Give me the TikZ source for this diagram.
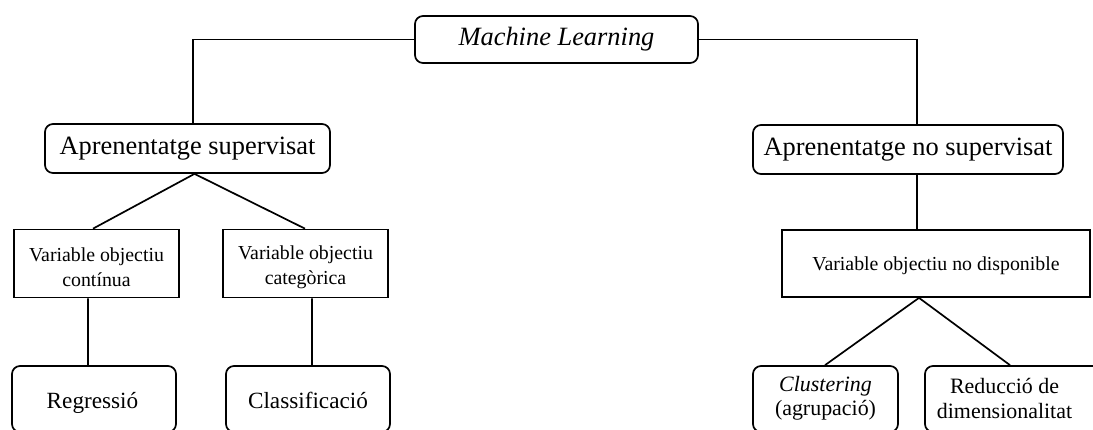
\documentclass[tikz,border=0pt]{standalone}
\usepackage{fontspec}
\setmainfont{Liberation Serif}
\tikzset{
  box/.style={draw=black, line width=1.7bp, inner sep=0pt, align=center, anchor=center},
  rbox/.style={box, rounded corners=8bp},
  txt/.style={inner sep=0pt, align=center},
  big/.style={font=\fontsize{26.5}{30}\selectfont},
  mid/.style={font=\fontsize{19.9}{25.5}\selectfont},
  low/.style={font=\fontsize{23.3}{25}\selectfont},
  lowr/.style={font=\fontsize{22}{24.5}\selectfont},
  conn/.style={line width=1.7bp, black},
}
\begin{document}
\begin{tikzpicture}[x=1bp, y=-1bp]
\path[use as bounding box] (0,0) rectangle (1093,429);
\clip (0,0) rectangle (1093,429);
\fill[white] (0,0) rectangle (1093,429);
% boxes
\node[rbox, big, minimum width=283bp, minimum height=47bp] (ml) at (556.5,39.5) {\itshape Machine Learning};
\node[rbox, big, minimum width=285bp, minimum height=49bp] (sup) at (187.5,148.5) {Aprenentatge supervisat};
\node[rbox, big, minimum width=310bp, minimum height=49bp] (nosup) at (908,149.5) {Aprenentatge no supervisat};
\node[box, minimum width=165bp, minimum height=68bp] (vc) at (96.5,263.5) {};
\node[box, minimum width=165bp, minimum height=68bp] (vcat) at (305.5,263.5) {};
\node[box, minimum width=308bp, minimum height=67bp] (vnd) at (936,263.5) {};
\node[rbox, minimum width=164bp, minimum height=66bp] (reg) at (94,399) {};
\node[rbox, minimum width=164bp, minimum height=66bp] (cla) at (308,399) {};
\node[rbox, minimum width=145bp, minimum height=66bp] (clu) at (825.5,399) {};
\node[rbox, minimum width=190bp, minimum height=66bp] (red) at (1020,399) {};
% texts
\node[txt, mid] (vct) at (96.5,267) {Variable objectiu\\contínua};
\node[txt, mid] (vcatt) at (305.5,267) {Variable objectiu\\categòrica};
\node[txt, mid] (vndt) at (936,265.5) {Variable objectiu no disponible};
\node[txt, low, anchor=base] (regt) at (92.5,408) {Regressió};
\node[txt, low, anchor=base] (clat) at (308,408) {Classificació};
\node[txt, lowr] (clut) at (825.5,398.5) {\itshape Clustering\\(agrupació)};
\node[txt, lowr] (redt) at (1004.5,398.5) {Reducció de\\dimensionalitat};
% connectors
\draw[conn] (ml.west) -| ([xshift=5.5bp]sup.north);
\draw[conn] (ml.east) -| ([xshift=9bp]nosup.north);
\draw[conn] ([xshift=7bp]sup.south) -- ([xshift=-3.5bp]vc.north);
\draw[conn] ([xshift=7bp]sup.south) -- ([xshift=-0.5bp]vcat.north);
\draw[conn] ([xshift=-8.5bp]vc.south) -- ([xshift=-6bp]reg.north);
\draw[conn] ([xshift=6.5bp]vcat.south) -- ([xshift=4bp]cla.north);
\draw[conn] ([xshift=9bp]nosup.south) -- ([xshift=-19bp]vnd.north);
\draw[conn] ([xshift=-17bp]vnd.south) -- ([xshift=-0.5bp]clu.north);
\draw[conn] ([xshift=-17bp]vnd.south) -- ([xshift=-10bp]red.north);
\end{tikzpicture}
\end{document}
